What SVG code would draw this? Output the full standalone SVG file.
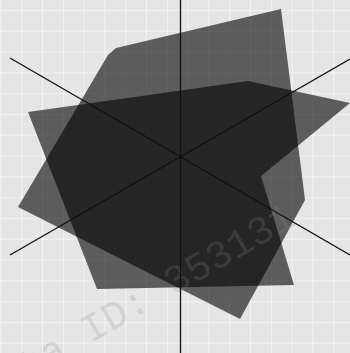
<svg xmlns="http://www.w3.org/2000/svg" width="350" height="353" viewBox="0 0 350 353">
<defs>
<pattern id="grid" x="0.5" y="10" width="20.8" height="20.8" patternUnits="userSpaceOnUse">
<rect width="20.8" height="20.8" fill="#e5e5e5"/>
<path d="M0 0 V20.8 M0 0 H20.8" stroke="#ffffff" stroke-width="1.2" fill="none"/>
</pattern>
</defs>
<style>
.poly{fill:#000000;fill-opacity:0.6;stroke:none}
.ln{stroke:#111111;stroke-width:1.3;fill:none}
.wm{font-family:"Liberation Mono","DejaVu Sans Mono",monospace;font-size:40px;fill:#8a8a8a;fill-opacity:0.22}
</style>
<rect x="0" y="0" width="350" height="353" fill="url(#grid)"/>
<g id="shapeA"><polygon class="poly" points="281,9 305,200 240,319 18,207 108,55 116,48"/></g>
<g id="shapeB"><polygon class="poly" points="28,112 248,81 350,103 261,176 294,285 97,289"/></g>
<text class="wm" x="0" y="0" transform="translate(-14,404) rotate(-30)">Data ID: 353131</text>
<g id="lines">
<line class="ln" x1="180.5" y1="0" x2="180.5" y2="353"/>
<line class="ln" x1="10" y1="58" x2="350" y2="255"/>
<line class="ln" x1="10" y1="255" x2="350" y2="59"/>
</g>
</svg>
